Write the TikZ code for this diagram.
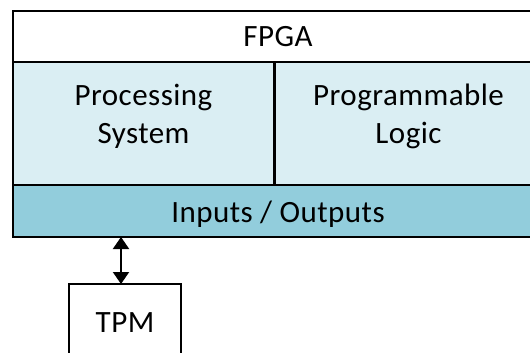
\documentclass[tikz,border=0pt]{standalone}
\usepackage{fontspec}
\setmainfont{Carlito}[LetterSpace=1.5]
\usetikzlibrary{arrows.meta,calc}
\definecolor{pslight}{HTML}{DAEEF3}
\definecolor{iofill}{HTML}{92CDDC}
\begin{document}
\begin{tikzpicture}[x=1pt,y=-1pt,
  cell/.style={draw=black, line width=1.8pt, inner sep=0pt, outer sep=0pt, anchor=north west},
  txt/.style={anchor=base, inner sep=0pt, font=\fontsize{31}{37}\selectfont}]
\useasboundingbox (0,0) rectangle (530,353);
\clip (0,0) rectangle (530,353);
% cells
\node[cell, fill=white, minimum width=530pt, minimum height=51pt] (fpga) at (13,11) {};
\node[cell, fill=pslight, minimum width=261pt, minimum height=123pt] (ps) at (13,62) {};
\node[cell, fill=pslight, minimum width=269pt, minimum height=123pt] (pl) at (274,62) {};
\node[cell, fill=iofill, minimum width=530pt, minimum height=52pt] (io) at (13,185) {};
\node[cell, fill=white, line width=1.5pt, minimum width=112pt, minimum height=100pt] (tpm) at (69,284) {};
% thick frame and divider
\draw[line width=2.4pt] (fpga.north west) rectangle (io.south east);
\draw[line width=3pt] (ps.north east) -- (ps.south east);
% texts
\node[txt] (tfpga) at ($(fpga.north)+(0,36)$) {FPGA};
\node[txt] (tps1) at ($(ps.north)+(0,44)$) {Processing};
\node[txt] (tps2) at ($(ps.north)+(0,81)$) {System};
\node[txt] (tpl1) at ($(pl.north)+(0,44)$) {Programmable};
\node[txt] (tpl2) at ($(pl.north)+(0,81)$) {Logic};
\node[txt] (tio) at ($(io.north)+(0,37)$) {Inputs / Outputs};
\node[txt] (ttpm) at ($(tpm.north)+(0,48)$) {TPM};
% arrow
\coordinate (ax) at (121,0);
\draw[line width=2pt, {Triangle[width=16pt,length=12pt]}-{Triangle[width=16pt,length=12pt]}]
  (io.south -| ax) -- (tpm.north -| ax);
\end{tikzpicture}
\end{document}
